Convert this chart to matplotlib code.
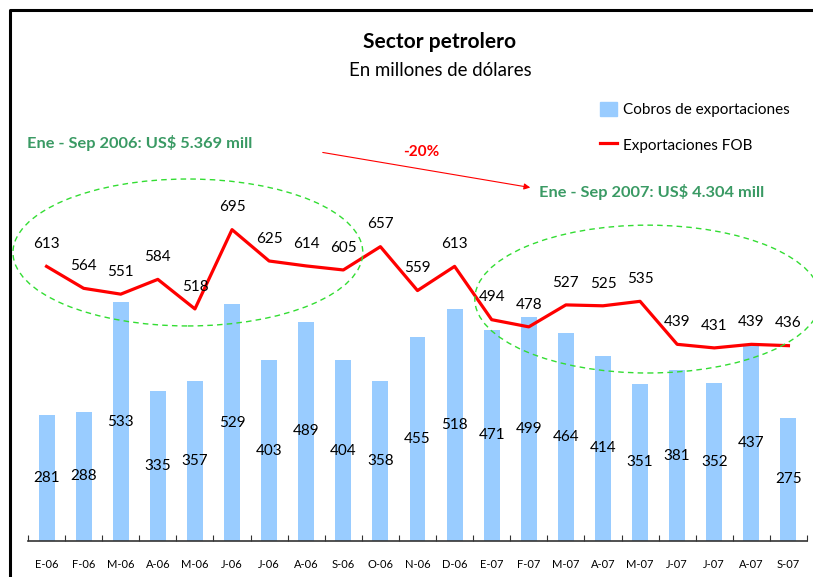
"""Sector petrolero: cobros de exportaciones (barras) vs exportaciones FOB (línea)."""

import matplotlib

matplotlib.use("Agg")
import matplotlib.pyplot as plt  # noqa: E402
from matplotlib.lines import Line2D  # noqa: E402
from matplotlib.patches import Ellipse, FancyArrowPatch, Patch  # noqa: E402

plt.rcParams["font.family"] = ["Lato", "DejaVu Sans"]

months = [
    "E-06", "F-06", "M-06", "A-06", "M-06", "J-06", "J-06", "A-06", "S-06", "O-06",
    "N-06", "D-06", "E-07", "F-07", "M-07", "A-07", "M-07", "J-07", "J-07", "A-07",
    "S-07",
]
cobros = [281, 288, 533, 335, 357, 529, 403, 489, 404, 358, 455, 518, 471, 499,
          464, 414, 351, 381, 352, 437, 275]
fob = [613, 564, 551, 584, 518, 695, 625, 614, 605, 657, 559, 613, 494, 478,
       527, 525, 535, 439, 431, 439, 436]

BAR_COLOR = "#99ccff"
LINE_COLOR = "#ff0000"
GREEN = "#3a9a64"

W, H = 813, 577
fig = plt.figure(figsize=(W / 100, H / 100), dpi=100)


def fx(px):
    return px / W


def fy(py):
    return 1 - py / H


# plot area in pixels: x 28..807, y 93..541
ax = fig.add_axes([fx(28), fy(541), fx(807) - fx(28), fy(93) - fy(541)])
x = list(range(len(months)))

ax.bar(x, cobros, width=0.43, color=BAR_COLOR, zorder=1)
ax.plot(x, fob, color=LINE_COLOR, lw=2.3, zorder=3)

for xi, v in zip(x, cobros):
    ax.text(xi, v / 2, f"{v}", ha="center", va="center", fontsize=11, zorder=4)
for xi, v in zip(x, fob):
    ax.annotate(f"{v}", (xi, v), xytext=(0, 16), textcoords="offset points",
                ha="center", va="center", fontsize=11, zorder=4)

ax.set_xlim(-0.5, len(months) - 0.5)
ax.set_ylim(0, 1000)
for side in ("left", "right", "top"):
    ax.spines[side].set_visible(False)
ax.spines["bottom"].set_color("#333333")
ax.spines["bottom"].set_linewidth(1.2)
ax.set_yticks([])
ax.set_xticks([i - 0.5 for i in range(len(months) + 1)])
ax.set_xticklabels([])
ax.tick_params(axis="x", which="major", direction="in", length=4, color="#333333")
ax.set_xticks(x, minor=True)
ax.set_xticklabels(months, minor=True, fontsize=8)
ax.tick_params(axis="x", which="minor", length=0, pad=13)

# dashed ellipses around each period
ax.add_patch(Ellipse((3.81, 644), 9.43, 328, fill=False, ec="#33dd33", ls=(0, (4, 3)),
                     lw=1, zorder=5, clip_on=False))
ax.add_patch(Ellipse((16.21, 540), 9.33, 330, fill=False, ec="#33dd33", ls=(0, (4, 3)),
                     lw=1, zorder=5, clip_on=False))

# arrow and annotations
fig.add_artist(FancyArrowPatch(
    (fx(320), fy(152)), (fx(533), fy(188)), transform=fig.transFigure,
    arrowstyle="-|>", mutation_scale=9, color=LINE_COLOR, lw=0.8))
fig.text(fx(421), fy(152), "-20%", color=LINE_COLOR, fontsize=11, fontweight="bold",
         ha="center", va="center")
fig.text(fx(27), fy(143), "Ene - Sep 2006: US$ 5.369 mill", color=GREEN, fontsize=11.8,
         fontweight="bold", ha="left", va="center")
fig.text(fx(539), fy(192), "Ene - Sep 2007: US$ 4.304 mill", color=GREEN, fontsize=11.8,
         fontweight="bold", ha="left", va="center")

fig.text(fx(440), fy(42), "Sector petrolero", fontsize=15, fontweight="bold",
         ha="center", va="center")
fig.text(fx(440), fy(70), "En millones de dólares", fontsize=13.4, ha="center", va="center")

handles = [Patch(color=BAR_COLOR), Line2D([], [], color=LINE_COLOR, lw=2.3)]
fig.legend(handles, ["Cobros de exportaciones", "Exportaciones FOB"], loc="upper left",
           bbox_to_anchor=(fx(586), fy(88)), frameon=False, fontsize=11,
           handlelength=1.1, handleheight=1.1, handletextpad=0.4, labelspacing=1.3)

# outer frame (left and top edges only visible)
fig.add_artist(Line2D([fx(10), fx(10), fx(W)], [0, fy(10), fy(10)],
                      transform=fig.transFigure, color="black", lw=2.2))

fig.savefig("out.png", dpi=100)
